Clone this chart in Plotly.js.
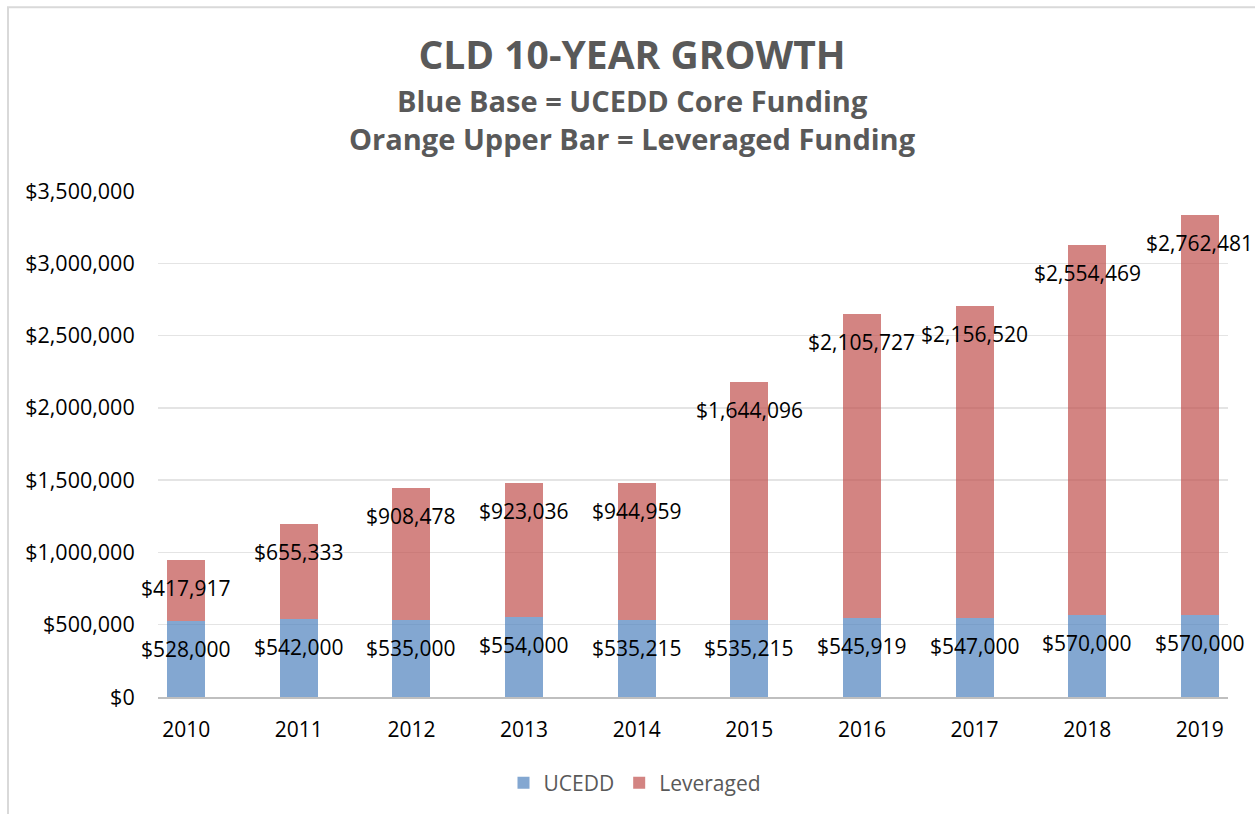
<!DOCTYPE html>
<html>
<head>
<meta charset="utf-8">
<script src="https://cdn.plot.ly/plotly-3.0.1.min.js"></script>
<style>html,body{margin:0;padding:0;background:#fff;}#chart{width:1255px;height:814px;}</style>
</head>
<body>
<div id="chart"></div>
<script>
const years = ['2010','2011','2012','2013','2014','2015','2016','2017','2018','2019'];
const ucedd = [528000, 542000, 535000, 554000, 535215, 535215, 545919, 547000, 570000, 570000];
const leveraged = [417917, 655333, 908478, 923036, 944959, 1644096, 2105727, 2156520, 2554469, 2762481];
const yTicks = [0, 500000, 1000000, 1500000, 2000000, 2500000, 3000000, 3500000];

const FONT = 'Open Sans, sans-serif';
const fmt = v => '$' + v.toLocaleString('en-US');

// plot-area pixel geometry used to place paper-referenced items
const L = 158, R = 1228, T = 191, B = 698;
const px2x = p => (p - L) / (R - L);
const px2y = p => (B - p) / (B - T);

const traces = [
  {type:'bar', name:'UCEDD', x: years, y: ucedd,
   marker:{color:'rgba(79,129,189,0.7)', line:{width:0}}, hoverinfo:'skip'},
  {type:'bar', name:'Leveraged', x: years, y: leveraged,
   marker:{color:'rgba(192,80,77,0.7)', line:{width:0}}, hoverinfo:'skip'}
];

const annotations = [];
years.forEach((yr, i) => {
  // category axis: position by category index
  annotations.push({x: i, y: ucedd[i], xref:'x', yref:'y', text: fmt(ucedd[i]), showarrow:false,
    yanchor:'middle', xanchor:'center', yshift:-28, font:{family:FONT, size:21, color:'#000'}});
  annotations.push({x: i, y: ucedd[i] + leveraged[i], xref:'x', yref:'y', text: fmt(leveraged[i]), showarrow:false,
    yanchor:'middle', xanchor:'center', yshift:-28, font:{family:FONT, size:21, color:'#000'}});
});
annotations.push({xref:'paper', yref:'paper', x: px2x(632), y: px2y(100), text:'Blue Base = UCEDD Core Funding',
  showarrow:false, xanchor:'center', yanchor:'middle', font:{family:FONT, size:29, color:'#595959', weight:'bold'}});
annotations.push({xref:'paper', yref:'paper', x: px2x(632), y: px2y(138), text:'Orange Upper Bar = Leveraged Funding',
  showarrow:false, xanchor:'center', yanchor:'middle', font:{family:FONT, size:29, color:'#595959', weight:'bold'}});

const layout = {
  width:1255, height:814,
  margin:{l:L, r:1255-R, t:T, b:814-B, pad:0},
  paper_bgcolor:'#fff', plot_bgcolor:'#fff',
  barmode:'stack', bargap:0.663,
  font:{family:FONT, color:'#000'},
  title:{text:'CLD 10-YEAR GROWTH', x:632/1255, xref:'container', xanchor:'center',
    y:1-55/814, yref:'container', yanchor:'middle',
    font:{family:FONT, size:39, color:'#595959', weight:'bold'}},
  xaxis:{type:'category', range:[-0.25, 9.25], showgrid:false, zeroline:false,
    showline:true, linecolor:'#bfbfbf', linewidth:2,
    ticks:'outside', ticklen:13, tickcolor:'rgba(0,0,0,0)',
    tickfont:{family:FONT, size:21, color:'#000'}, fixedrange:true},
  yaxis:{range:[0, 3500000], tickvals: yTicks, ticktext: yTicks.map(fmt),
    showgrid:true, gridcolor:'#e4e4e4', gridwidth:1.5, zeroline:false, showline:false,
    ticks:'outside', ticklen:18, tickcolor:'rgba(0,0,0,0)',
    tickfont:{family:FONT, size:21.5, color:'#000'}, fixedrange:true},
  showlegend:true,
  legend:{orientation:'h', xref:'paper', yref:'paper', x: px2x(635), y: px2y(783), xanchor:'center', yanchor:'middle',
    font:{family:FONT, size:21, color:'#595959'}, traceorder:'normal'},
  annotations: annotations,
  shapes:[{type:'rect', xref:'paper', yref:'paper', layer:'below',
    x0: px2x(8), x1: px2x(1270), y0: px2y(830), y1: px2y(7),
    line:{color:'#d9d9d9', width:2}, fillcolor:'rgba(0,0,0,0)'}]
};

Plotly.newPlot('chart', traces, layout, {displayModeBar:false, staticPlot:true});
</script>
</body>
</html>
